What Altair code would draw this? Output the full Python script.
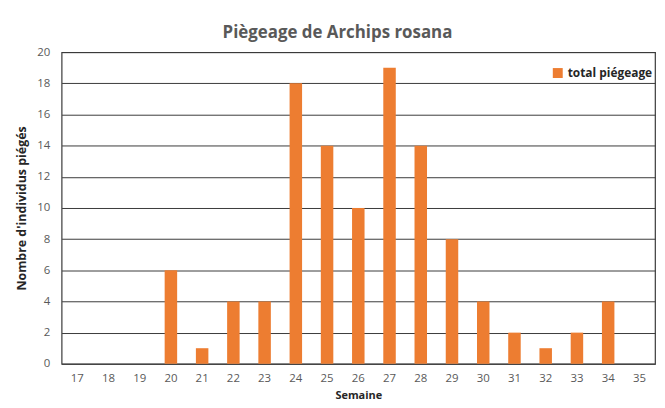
import altair as alt
import pandas as pd

semaines = [str(s) for s in range(17, 36)]
total = [0, 0, 0, 6, 1, 4, 4, 18, 14, 10, 19, 14, 8, 4, 2, 1, 2, 4, 0]
serie = ["total piégeage"] * len(semaines)

df = pd.DataFrame({"Semaine": semaines, "total": total, "serie": serie})

FONT = "Open Sans"
GREY = "#595959"

bars = alt.Chart(df).mark_bar(color="#ED7D31").encode(
    x=alt.X("Semaine:N", sort=semaines,
            scale=alt.Scale(paddingInner=0.6, paddingOuter=0.3),
            axis=alt.Axis(title="Semaine", labelAngle=0, ticks=False, labelPadding=9,
                          domain=False, labelFontSize=11.5, labelColor=GREY, labelFont=FONT,
                          titleFont=FONT, titleFontSize=11, titleFontWeight="bold",
                          titleColor="#262626", titlePadding=5)),
    y=alt.Y("total:Q", scale=alt.Scale(domain=[0, 20], nice=False),
            axis=alt.Axis(title="Nombre d'individus piégés", values=list(range(0, 21, 2)),
                          ticks=False, domain=False, labelPadding=12, labelFontSize=11.5,
                          labelColor=GREY, labelFont=FONT, gridColor="#3a3a3a",
                          gridWidth=1, titleFont=FONT, titleFontSize=12.5,
                          titleFontWeight="bold", titleColor="#262626", titlePadding=8)),
    fill=alt.Fill("serie:N", scale=alt.Scale(range=["#ED7D31"]),
                  legend=alt.Legend(title=None, orient="none", legendX=494, legendY=15,
                                    symbolType="square", symbolSize=100, labelFont=FONT,
                                    labelFontSize=12, labelFontWeight="bold",
                                    labelColor="#262626", symbolStrokeWidth=0)),
)

chart = bars.properties(
    width=598, height=314,
    title=alt.TitleParams("Piègeage de Archips rosana", font=FONT, fontSize=17,
                          fontWeight="bold", color=GREY, anchor="middle", offset=4, dx=-21),
    autosize=alt.AutoSizeParams(type="none"),
    padding={"left": 54, "top": 43, "right": 2, "bottom": 40},
).configure_view(stroke="#3a3a3a", strokeWidth=1.2)

chart.save("out.html", embed_options={"renderer": "svg", "actions": False})
